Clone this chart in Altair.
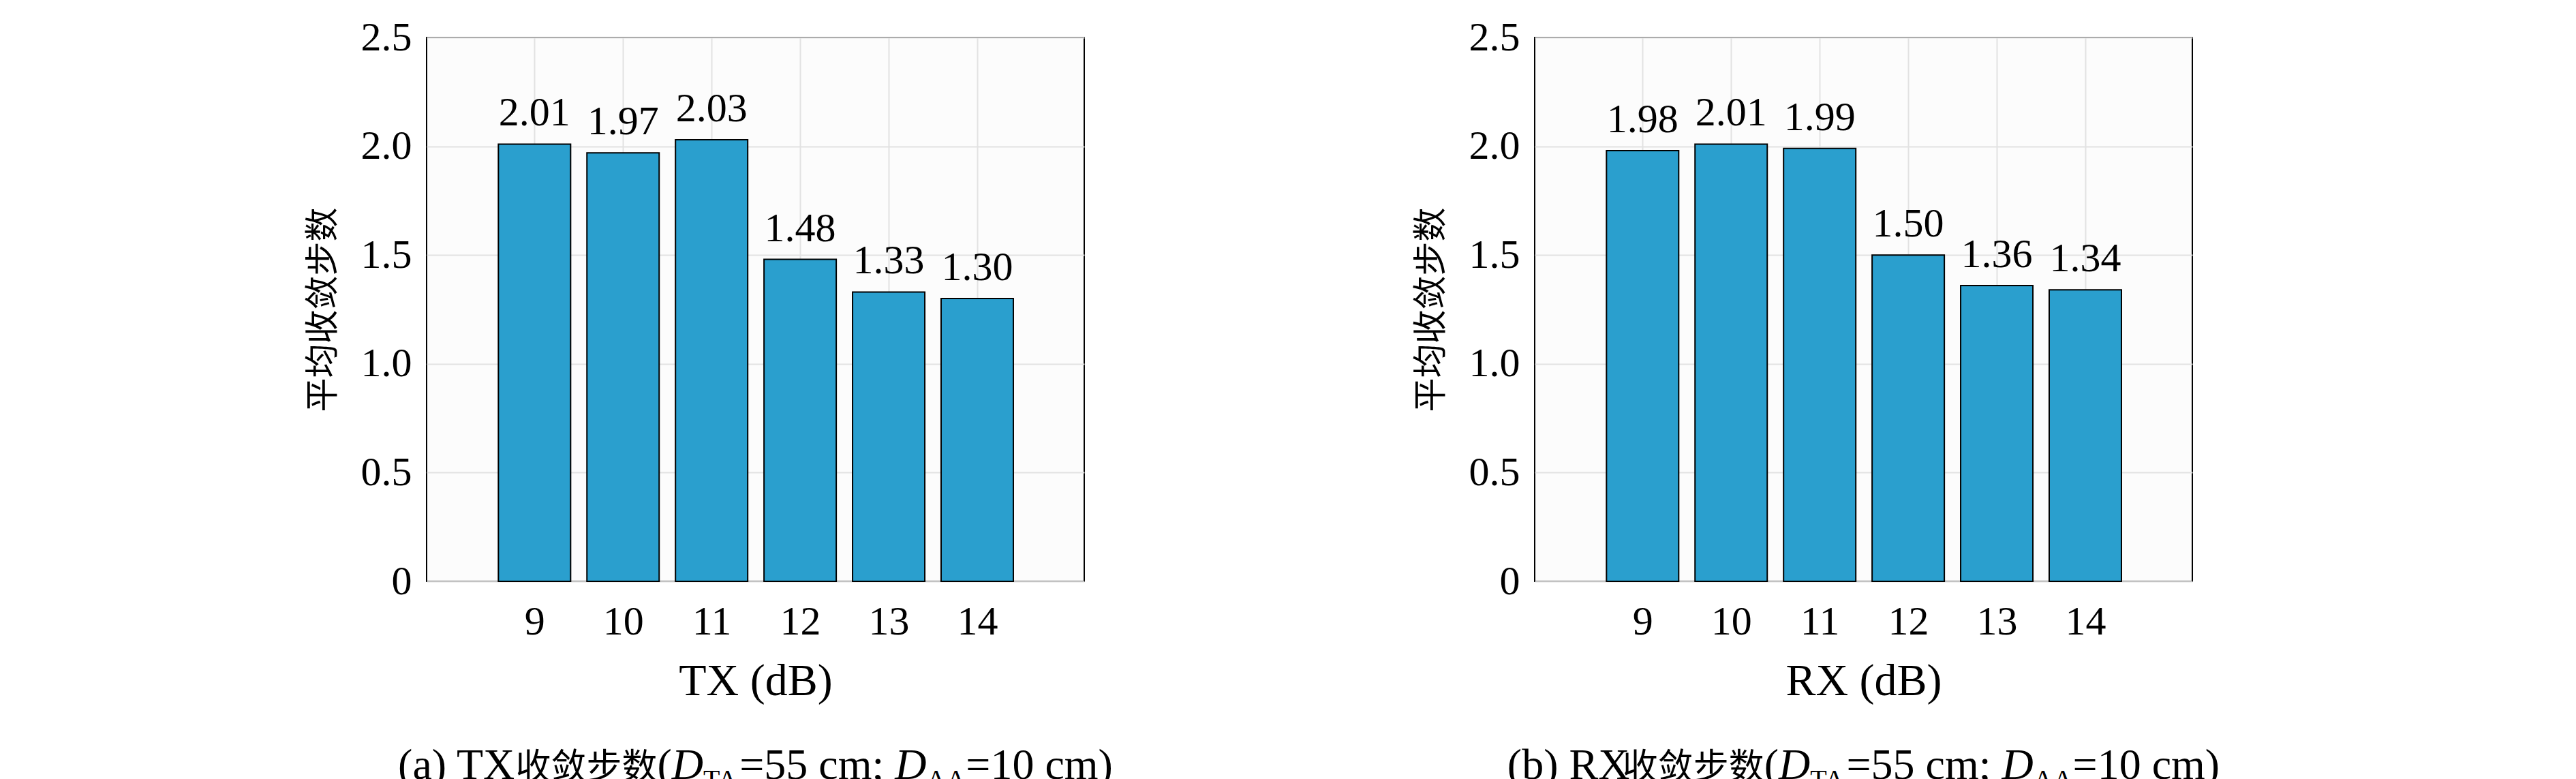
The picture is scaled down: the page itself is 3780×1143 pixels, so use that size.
import altair as alt
import pandas as pd

tx_levels = [9, 10, 11, 12, 13, 14]
tx_steps = [2.01, 1.97, 2.03, 1.48, 1.33, 1.30]
rx_levels = [9, 10, 11, 12, 13, 14]
rx_steps = [1.98, 2.01, 1.99, 1.50, 1.36, 1.34]

W, H = 965, 798
BAR = "#2A9FCE"
SERIF = "Liberation Serif"
CJK = "Noto Sans CJK SC"

# rough Times-like glyph widths (em) for laying out the caption pieces
_EM = {"(": .333, ")": .333, " ": .25, ".": .25, ";": .278, "=": .564,
       "a": .444, "c": .444, "m": .778, "T": .611, "X": .722, "D": .722, "A": .722}


def _w(s, size):
    return sum((_EM.get(ch, .5) if ord(ch) < 128 else 1.0) for ch in s) * size


def caption(label, sig):
    pieces = [
        (f"({label}) {sig}", 64, SERIF, "normal", 0),
        ("收敛步数", 52, CJK, "normal", 0),
        ("(", 64, SERIF, "normal", 0),
        ("D", 64, SERIF, "italic", 0),
        ("TA", 40, SERIF, "normal", 14),
        ("=55 cm; ", 64, SERIF, "normal", 0),
        ("D", 64, SERIF, "italic", 0),
        ("AA", 40, SERIF, "normal", 14),
        ("=10 cm)", 64, SERIF, "normal", 0),
    ]
    total = sum(_w(p[0], p[1]) for p in pieces)
    x = W / 2 - total / 2
    y = H + 290
    layers = []
    dummy = pd.DataFrame({"a": [0]})
    for text, size, font, style, dy in pieces:
        layers.append(alt.Chart(dummy).mark_text(
            text=text, fontSize=size, font=font, fontStyle=style, align="left",
            baseline="alphabetic", color="black").encode(
            x=alt.value(x), y=alt.value(y + dy)))
        x += _w(text, size)
    return layers


def panel(levels, steps, xtitle, label):
    df = pd.DataFrame({"level": levels, "steps": steps})
    common = dict(labelFont=SERIF, labelFontSize=60, labelColor="black", titleColor="black",
                  titleFontWeight="normal", gridColor="#e2e2e2", gridWidth=2, domain=False,
                  ticks=False)
    xs = alt.X("level:Q", scale=alt.Scale(domain=[7.82, 15.17], nice=False),
               axis=alt.Axis(values=levels, title=xtitle, format="d", titleFontSize=66,
                             titleFont=SERIF, titlePadding=25, labelPadding=30, **common))
    ys = alt.Y("steps:Q", scale=alt.Scale(domain=[0, 2.5], nice=False),
               axis=alt.Axis(values=[0, 0.5, 1, 1.5, 2, 2.5],
                             labelExpr="datum.value == 0 ? '0' : format(datum.value, '.1f')",
                             title="平均收敛步数", titleFont=CJK, titleFontSize=50,
                             titlePadding=30, labelPadding=22, **common))
    bars = alt.Chart(df).mark_bar(size=106, color=BAR, stroke="black", strokeWidth=2).encode(x=xs, y=ys)
    text = alt.Chart(df).mark_text(baseline="bottom", dy=-14, fontSize=60, font=SERIF).encode(
        x="level:Q", y="steps:Q", text=alt.Text("steps:Q", format=".2f"))
    return alt.layer(bars, text, *caption(label, xtitle.split(" ")[0])).properties(width=W, height=H)


chart = alt.hconcat(
    panel(tx_levels, tx_steps, "TX (dB)", "a"),
    panel(rx_levels, rx_steps, "RX (dB)", "b"),
    spacing=440,
).properties(
    padding={"left": 440, "top": 16, "right": 10, "bottom": 10}, background="white"
).configure_view(stroke="black", strokeWidth=2, fill="#fcfcfc")

chart.save("out.html", embed_options={"renderer": "svg", "actions": False})
